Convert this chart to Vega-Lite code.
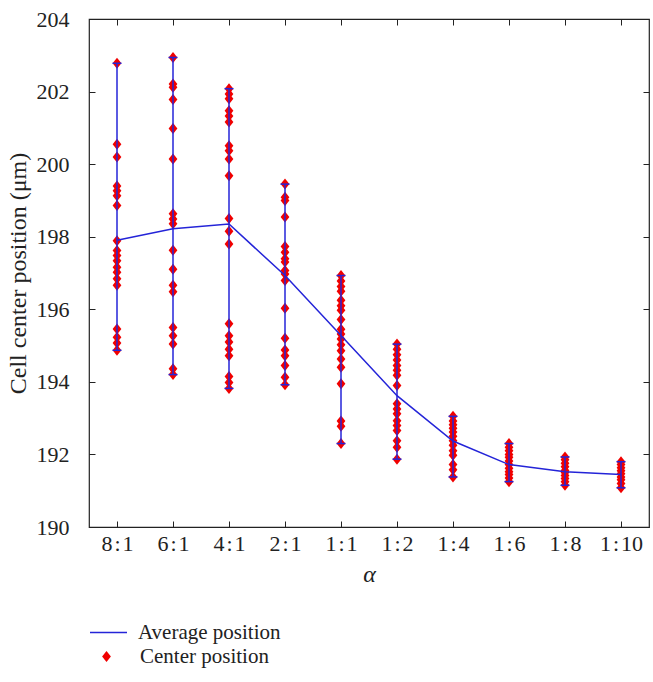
{
  "$schema": "https://vega.github.io/schema/vega-lite/v6.json",
  "width": 560,
  "height": 508,
  "padding": {"left": 6, "top": 8, "right": 5, "bottom": 5},
  "background": "white",
  "config": {
    "font": "Liberation Serif",
    "view": {"stroke": "#222", "strokeWidth": 1.2},
    "axis": {"grid": false, "domain": false, "tickColor": "#222", "labelColor": "#222", "titleColor": "#222", "labelFont": "Liberation Serif", "titleFont": "Liberation Serif", "titleFontWeight": "normal"}
  },
  "datasets": {
    "pts": [
      {"alpha": "8:1", "pos": 202.78}, {"alpha": "8:1", "pos": 200.55}, {"alpha": "8:1", "pos": 200.2}, {"alpha": "8:1", "pos": 199.4}, {"alpha": "8:1", "pos": 199.27}, {"alpha": "8:1", "pos": 199.13}, {"alpha": "8:1", "pos": 198.86}, {"alpha": "8:1", "pos": 197.89}, {"alpha": "8:1", "pos": 197.62}, {"alpha": "8:1", "pos": 197.48}, {"alpha": "8:1", "pos": 197.34}, {"alpha": "8:1", "pos": 197.16}, {"alpha": "8:1", "pos": 197.02}, {"alpha": "8:1", "pos": 196.84}, {"alpha": "8:1", "pos": 196.66}, {"alpha": "8:1", "pos": 195.46}, {"alpha": "8:1", "pos": 195.23}, {"alpha": "8:1", "pos": 195.07}, {"alpha": "8:1", "pos": 194.87},
      {"alpha": "6:1", "pos": 202.94}, {"alpha": "6:1", "pos": 202.21}, {"alpha": "6:1", "pos": 202.12}, {"alpha": "6:1", "pos": 201.78}, {"alpha": "6:1", "pos": 200.98}, {"alpha": "6:1", "pos": 200.14}, {"alpha": "6:1", "pos": 198.63}, {"alpha": "6:1", "pos": 198.49}, {"alpha": "6:1", "pos": 198.36}, {"alpha": "6:1", "pos": 197.63}, {"alpha": "6:1", "pos": 197.1}, {"alpha": "6:1", "pos": 196.66}, {"alpha": "6:1", "pos": 196.48}, {"alpha": "6:1", "pos": 195.5}, {"alpha": "6:1", "pos": 195.27}, {"alpha": "6:1", "pos": 195.04}, {"alpha": "6:1", "pos": 194.36}, {"alpha": "6:1", "pos": 194.2},
      {"alpha": "4:1", "pos": 202.08}, {"alpha": "4:1", "pos": 201.93}, {"alpha": "4:1", "pos": 201.8}, {"alpha": "4:1", "pos": 201.47}, {"alpha": "4:1", "pos": 201.33}, {"alpha": "4:1", "pos": 201.16}, {"alpha": "4:1", "pos": 200.51}, {"alpha": "4:1", "pos": 200.37}, {"alpha": "4:1", "pos": 200.14}, {"alpha": "4:1", "pos": 199.68}, {"alpha": "4:1", "pos": 198.5}, {"alpha": "4:1", "pos": 198.15}, {"alpha": "4:1", "pos": 197.8}, {"alpha": "4:1", "pos": 195.6}, {"alpha": "4:1", "pos": 195.27}, {"alpha": "4:1", "pos": 195.1}, {"alpha": "4:1", "pos": 194.9}, {"alpha": "4:1", "pos": 194.72}, {"alpha": "4:1", "pos": 194.15}, {"alpha": "4:1", "pos": 193.98}, {"alpha": "4:1", "pos": 193.82},
      {"alpha": "2:1", "pos": 199.45}, {"alpha": "2:1", "pos": 199.09}, {"alpha": "2:1", "pos": 199.0}, {"alpha": "2:1", "pos": 198.54}, {"alpha": "2:1", "pos": 197.73}, {"alpha": "2:1", "pos": 197.57}, {"alpha": "2:1", "pos": 197.39}, {"alpha": "2:1", "pos": 197.3}, {"alpha": "2:1", "pos": 197.07}, {"alpha": "2:1", "pos": 196.97}, {"alpha": "2:1", "pos": 196.79}, {"alpha": "2:1", "pos": 196.03}, {"alpha": "2:1", "pos": 195.2}, {"alpha": "2:1", "pos": 194.88}, {"alpha": "2:1", "pos": 194.72}, {"alpha": "2:1", "pos": 194.45}, {"alpha": "2:1", "pos": 194.13}, {"alpha": "2:1", "pos": 193.92},
      {"alpha": "1:1", "pos": 196.93}, {"alpha": "1:1", "pos": 196.78}, {"alpha": "1:1", "pos": 196.63}, {"alpha": "1:1", "pos": 196.5}, {"alpha": "1:1", "pos": 196.25}, {"alpha": "1:1", "pos": 196.1}, {"alpha": "1:1", "pos": 195.97}, {"alpha": "1:1", "pos": 195.72}, {"alpha": "1:1", "pos": 195.45}, {"alpha": "1:1", "pos": 195.32}, {"alpha": "1:1", "pos": 195.18}, {"alpha": "1:1", "pos": 195.02}, {"alpha": "1:1", "pos": 194.86}, {"alpha": "1:1", "pos": 194.63}, {"alpha": "1:1", "pos": 194.4}, {"alpha": "1:1", "pos": 193.95}, {"alpha": "1:1", "pos": 192.92}, {"alpha": "1:1", "pos": 192.78}, {"alpha": "1:1", "pos": 192.3},
      {"alpha": "1:2", "pos": 195.04}, {"alpha": "1:2", "pos": 194.9}, {"alpha": "1:2", "pos": 194.75}, {"alpha": "1:2", "pos": 194.6}, {"alpha": "1:2", "pos": 194.45}, {"alpha": "1:2", "pos": 194.32}, {"alpha": "1:2", "pos": 194.18}, {"alpha": "1:2", "pos": 193.9}, {"alpha": "1:2", "pos": 193.4}, {"alpha": "1:2", "pos": 193.25}, {"alpha": "1:2", "pos": 193.12}, {"alpha": "1:2", "pos": 192.93}, {"alpha": "1:2", "pos": 192.8}, {"alpha": "1:2", "pos": 192.66}, {"alpha": "1:2", "pos": 192.38}, {"alpha": "1:2", "pos": 192.2}, {"alpha": "1:2", "pos": 191.87},
      {"alpha": "1:4", "pos": 193.05}, {"alpha": "1:4", "pos": 192.92}, {"alpha": "1:4", "pos": 192.82}, {"alpha": "1:4", "pos": 192.72}, {"alpha": "1:4", "pos": 192.62}, {"alpha": "1:4", "pos": 192.5}, {"alpha": "1:4", "pos": 192.38}, {"alpha": "1:4", "pos": 192.25}, {"alpha": "1:4", "pos": 192.1}, {"alpha": "1:4", "pos": 191.98}, {"alpha": "1:4", "pos": 191.72}, {"alpha": "1:4", "pos": 191.58}, {"alpha": "1:4", "pos": 191.38},
      {"alpha": "1:6", "pos": 192.3}, {"alpha": "1:6", "pos": 192.2}, {"alpha": "1:6", "pos": 192.1}, {"alpha": "1:6", "pos": 192.0}, {"alpha": "1:6", "pos": 191.92}, {"alpha": "1:6", "pos": 191.82}, {"alpha": "1:6", "pos": 191.72}, {"alpha": "1:6", "pos": 191.62}, {"alpha": "1:6", "pos": 191.52}, {"alpha": "1:6", "pos": 191.45}, {"alpha": "1:6", "pos": 191.35}, {"alpha": "1:6", "pos": 191.25},
      {"alpha": "1:8", "pos": 191.93}, {"alpha": "1:8", "pos": 191.85}, {"alpha": "1:8", "pos": 191.76}, {"alpha": "1:8", "pos": 191.66}, {"alpha": "1:8", "pos": 191.56}, {"alpha": "1:8", "pos": 191.5}, {"alpha": "1:8", "pos": 191.42}, {"alpha": "1:8", "pos": 191.34}, {"alpha": "1:8", "pos": 191.25}, {"alpha": "1:8", "pos": 191.15},
      {"alpha": "1:10", "pos": 191.8}, {"alpha": "1:10", "pos": 191.72}, {"alpha": "1:10", "pos": 191.63}, {"alpha": "1:10", "pos": 191.55}, {"alpha": "1:10", "pos": 191.47}, {"alpha": "1:10", "pos": 191.38}, {"alpha": "1:10", "pos": 191.3}, {"alpha": "1:10", "pos": 191.2}, {"alpha": "1:10", "pos": 191.08}
    ],
    "avg": [
      {"alpha": "8:1", "avg": 197.9}, {"alpha": "6:1", "avg": 198.22}, {"alpha": "4:1", "avg": 198.35}, {"alpha": "2:1", "avg": 196.93}, {"alpha": "1:1", "avg": 195.28}, {"alpha": "1:2", "avg": 193.62}, {"alpha": "1:4", "avg": 192.37}, {"alpha": "1:6", "avg": 191.72}, {"alpha": "1:8", "avg": 191.52}, {"alpha": "1:10", "avg": 191.45}
    ]
  },
  "resolve": {"axis": {"x": "independent", "y": "independent"}},
  "layer": [
    {
      "data": {"name": "pts"},
      "mark": {"type": "point", "filled": true, "color": "#f00000", "size": 121, "opacity": 1},
      "encoding": {
        "x": {"field": "alpha", "type": "ordinal", "sort": ["8:1", "6:1", "4:1", "2:1", "1:1", "1:2", "1:4", "1:6", "1:8", "1:10"],
              "scale": {"type": "point", "padding": 0.5},
              "axis": {"orient": "bottom", "title": "α", "titleFontStyle": "italic", "titleFontSize": 24, "labelFontSize": 22, "labelAngle": 0, "tickSize": -6, "labelPadding": 12, "titlePadding": 8,
                       "labelExpr": "replace(datum.label, ':', '\u200a:\u200a')"}},
        "y": {"field": "pos", "type": "quantitative",
              "scale": {"domain": [190, 204], "nice": false, "zero": false},
              "axis": {"orient": "left", "title": "Cell center position (μm)", "titleFontSize": 24, "labelFontSize": 22, "values": [190, 192, 194, 196, 198, 200, 202, 204], "tickSize": -6, "labelPadding": 26, "titlePadding": 6}},
        "shape": {"datum": "Center position", "scale": {"range": ["M0,-1L0.8,0L0,1L-0.8,0Z"]},
                  "legend": {"orient": "none", "legendX": 7, "legendY": 627, "title": null, "labelFontSize": 21, "labelFont": "Liberation Serif", "labelColor": "#222", "symbolFillColor": "#f00000", "symbolStrokeWidth": 0, "symbolSize": 121, "labelOffset": 23, "padding": 0}}
      }
    },
    {
      "data": {"name": "pts"},
      "mark": {"type": "rule", "color": "#2424d8", "strokeWidth": 1.5},
      "encoding": {
        "x": {"field": "alpha", "type": "ordinal", "sort": ["8:1", "6:1", "4:1", "2:1", "1:1", "1:2", "1:4", "1:6", "1:8", "1:10"], "axis": null},
        "y": {"aggregate": "min", "field": "pos", "type": "quantitative", "axis": null},
        "y2": {"aggregate": "max", "field": "pos"}
      }
    },
    {
      "data": {"name": "pts"},
      "mark": {"type": "tick", "orient": "horizontal", "color": "#2424d8", "size": 9, "thickness": 1.5},
      "encoding": {
        "x": {"field": "alpha", "type": "ordinal", "sort": ["8:1", "6:1", "4:1", "2:1", "1:1", "1:2", "1:4", "1:6", "1:8", "1:10"], "axis": null},
        "y": {"aggregate": "min", "field": "pos", "type": "quantitative", "axis": null}
      }
    },
    {
      "data": {"name": "pts"},
      "mark": {"type": "tick", "orient": "horizontal", "color": "#2424d8", "size": 9, "thickness": 1.5},
      "encoding": {
        "x": {"field": "alpha", "type": "ordinal", "sort": ["8:1", "6:1", "4:1", "2:1", "1:1", "1:2", "1:4", "1:6", "1:8", "1:10"], "axis": null},
        "y": {"aggregate": "max", "field": "pos", "type": "quantitative", "axis": null}
      }
    },
    {
      "data": {"name": "avg"},
      "mark": {"type": "line", "strokeWidth": 1.5},
      "encoding": {
        "x": {"field": "alpha", "type": "ordinal", "sort": ["8:1", "6:1", "4:1", "2:1", "1:1", "1:2", "1:4", "1:6", "1:8", "1:10"],
              "axis": {"orient": "top", "labels": false, "title": null, "tickSize": -6}},
        "y": {"field": "avg", "type": "quantitative",
              "axis": {"orient": "right", "labels": false, "title": null, "values": [190, 192, 194, 196, 198, 200, 202, 204], "tickSize": -6}},
        "color": {"datum": "Average position", "scale": {"range": ["#2424d8"]},
                  "legend": {"orient": "none", "legendX": 0, "legendY": 594, "title": null, "labelFontSize": 21, "labelFont": "Liberation Serif", "labelColor": "#222", "symbolType": "stroke", "symbolSize": 1369, "symbolStrokeWidth": 1.5, "labelOffset": 10, "padding": 0}}
      }
    }
  ]
}
